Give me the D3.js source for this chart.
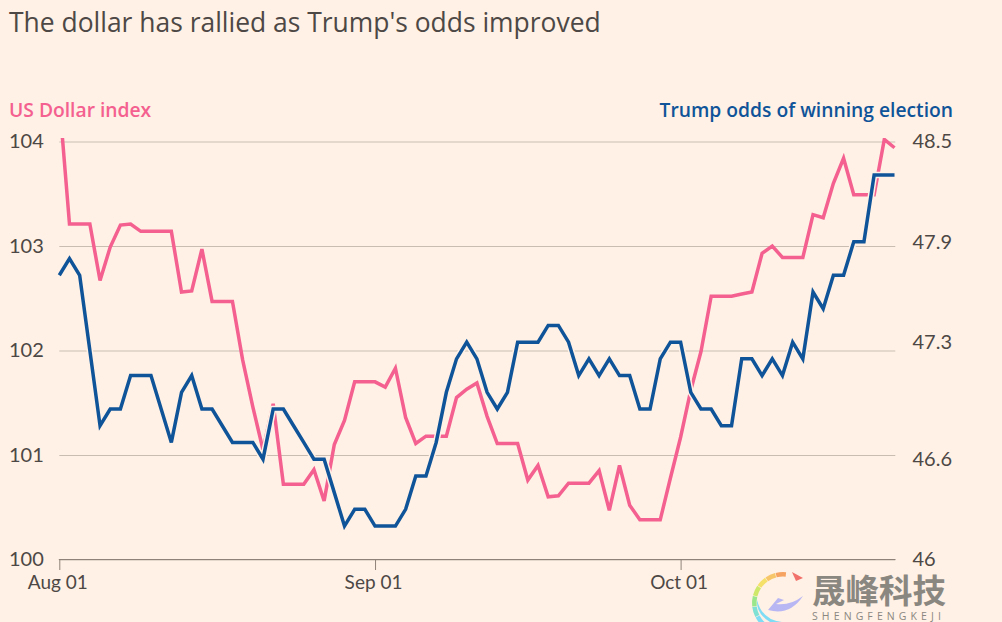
<!DOCTYPE html>
<html>
<head>
<meta charset="utf-8">
<script src="https://cdn.jsdelivr.net/npm/d3@7/dist/d3.min.js"></script>
<style>
  html, body { margin: 0; padding: 0; background: #fff1e5; }
  svg { display: block; }
  text { font-family: "Open Sans", "Noto Sans", sans-serif; }
  .num { font-family: "Lato", "Noto Sans", sans-serif; }
</style>
</head>
<body>
<svg id="chart" width="1002" height="622"></svg>
<script>
const titleText = "The dollar has rallied as Trump's odds improved";
const leftLabel = "US Dollar index";
const rightLabel = "Trump odds of winning election";
const markName = "晟峰科技";
const markLatin = "SHENGFENGKEJI";

const dollarTicks = [100, 101, 102, 103, 104];
const oddsTicks = [46, 46.6, 47.3, 47.9, 48.5];
const dateTicks = ["2024-08-01", "2024-09-01", "2024-10-01"];
const firstDay = "2024-08-01";
const lastDay = "2024-10-22";

// daily readings, Aug 01 to Oct 22
const dollarIndex = [
	104.4, 103.21, 103.21, 103.21, 102.67, 102.99, 103.20, 103.21, 103.14, 103.14,
	103.14, 103.14, 102.56, 102.57, 102.97, 102.47, 102.47, 102.47, 101.91, 101.46,
	101.05, 101.49, 100.72, 100.72, 100.72, 100.86, 100.56, 101.10, 101.33, 101.70,
	101.70, 101.70, 101.65, 101.83, 101.36, 101.11, 101.18, 101.18, 101.18, 101.55,
	101.63, 101.69, 101.37, 101.11, 101.11, 101.11, 100.76, 100.90, 100.60, 100.61,
	100.73, 100.73, 100.73, 100.85, 100.47, 100.90, 100.52, 100.38, 100.38, 100.38,
	100.78, 101.17, 101.62, 101.99, 102.52, 102.52, 102.52, 102.54, 102.56, 102.93,
	103.00, 102.89, 102.89, 102.89, 103.30, 103.27, 103.60, 103.84, 103.49, 103.49,
	103.49, 104.02, 103.94
];
const trumpOdds = [
	47.7, 47.8, 47.7, 47.25, 46.8, 46.9, 46.9, 47.1, 47.1, 47.1,
	46.9, 46.7, 47.0, 47.1, 46.9, 46.9, 46.8, 46.7, 46.7, 46.7,
	46.6, 46.9, 46.9, 46.8, 46.7, 46.6, 46.6, 46.4, 46.2, 46.3,
	46.3, 46.2, 46.2, 46.2, 46.3, 46.5, 46.5, 46.7, 47.0, 47.2,
	47.3, 47.2, 47.0, 46.9, 47.0, 47.3, 47.3, 47.3, 47.4, 47.4,
	47.3, 47.1, 47.2, 47.1, 47.2, 47.1, 47.1, 46.9, 46.9, 47.2,
	47.3, 47.3, 47.0, 46.9, 46.9, 46.8, 46.8, 47.2, 47.2, 47.1,
	47.2, 47.1, 47.3, 47.2, 47.6, 47.5, 47.7, 47.7, 47.9, 47.9,
	48.3, 48.3, 48.3
];

const colors = {
	bg: '#fff1e5',
	pink: '#f4608f',
	blue: '#0f5499',
	grid: '#c9bdb2',
	axis: '#8f8379',
	text: '#4d4845',
	mark: '#8a8781'
};

const parseDay = d3.utcParse('%Y-%m-%d');
const days = d3.utcDay.range(parseDay(firstDay), d3.utcDay.offset(parseDay(lastDay), 1));

const svg = d3.select('#chart');

const x = d3.scaleUtc()
	.domain([parseDay(firstDay), parseDay(lastDay)])
	.range([59.3, 894.5]);
const yDollar = d3.scaleLinear().domain([100, 104]).range([559.5, 141.5]);
const yOdds = d3.scaleLinear().domain([46, 48.5]).range([559.5, 141.5]);

svg.append('text')
	.attr('x', 9).attr('y', 32)
	.attr('font-size', 26.45)
	.attr('fill', colors.text)
	.text(titleText);

svg.append('text')
	.attr('x', 9).attr('y', 117)
	.attr('font-size', 19.25)
	.attr('font-weight', 600)
	.attr('fill', colors.pink)
	.text(leftLabel);

svg.append('text')
	.attr('x', 953).attr('y', 117)
	.attr('text-anchor', 'end')
	.attr('font-size', 19.25)
	.attr('font-weight', 600)
	.attr('fill', colors.blue)
	.text(rightLabel);

// left axis, gridlines run across the plot
const leftAxis = svg.append('g')
	.attr('transform', 'translate(59.3, 0)')
	.call(d3.axisLeft(yDollar).tickValues(dollarTicks).tickSize(-836).tickPadding(0).tickFormat(d3.format('d')));
leftAxis.select('.domain').remove();
leftAxis.selectAll('.tick line')
	.attr('stroke', colors.grid)
	.attr('stroke-width', 1);
leftAxis.selectAll('.tick text')
	.attr('class', 'num')
	.attr('x', -50.3)
	.attr('text-anchor', 'start')
	.attr('font-size', 20)
	.attr('fill', colors.text);

// right axis has its labels only
const rightAxis = svg.append('g')
	.attr('transform', 'translate(912.5, 0)')
	.call(d3.axisRight(yOdds).tickValues(oddsTicks).tickSize(0).tickPadding(0).tickFormat(d => d));
rightAxis.select('.domain').remove();
rightAxis.selectAll('.tick text')
	.attr('class', 'num')
	.attr('font-size', 20)
	.attr('fill', colors.text);

const bottomAxis = svg.append('g')
	.attr('transform', 'translate(0, 559.5)')
	.call(d3.axisBottom(x)
		.tickValues(dateTicks.map(parseDay))
		.tickSize(10.5)
		.tickPadding(6)
		.tickFormat(d3.utcFormat('%b %d')));
bottomAxis.select('.domain')
	.attr('d', 'M58.8,0H895.5')
	.attr('stroke', colors.axis)
	.attr('stroke-width', 1);
bottomAxis.selectAll('.tick line').attr('stroke', colors.axis).attr('stroke-width', 1);
bottomAxis.selectAll('.tick text')
	.attr('class', 'num')
	.attr('x', -2)
	.attr('font-size', 19)
	.attr('fill', colors.text);

svg.append('clipPath').attr('id', 'plot-clip')
	.append('rect')
	.attr('x', 50).attr('y', 138).attr('width', 860).attr('height', 440);

const lineOf = (values, y) => d3.line()
	.x((d, i) => x(days[i]))
	.y(d => y(d))(values);

const lines = svg.append('g').attr('clip-path', 'url(#plot-clip)');

lines.append('path')
	.attr('d', lineOf(dollarIndex, yDollar))
	.attr('fill', 'none')
	.attr('stroke', colors.pink)
	.attr('stroke-width', 3.5);

// blue line sits on a halo of the background colour
lines.append('path')
	.attr('d', lineOf(trumpOdds, yOdds))
	.attr('fill', 'none')
	.attr('stroke', colors.bg)
	.attr('stroke-width', 6.5);

lines.append('path')
	.attr('d', lineOf(trumpOdds, yOdds))
	.attr('fill', 'none')
	.attr('stroke', colors.blue)
	.attr('stroke-width', 3.5);

// watermark at bottom right
const mark = svg.append('g');
const ring = d3.arc().innerRadius(26.5).outerRadius(31);
const ringColors = ['#7fdcf5', '#7fe0d4', '#9ae68a', '#cfe86a', '#f5e06a', '#f8c66a', '#f6a260'];
ringColors.forEach((c, i) => {
	mark.append('path')
		.attr('transform', 'translate(783, 603)')
		.attr('d', ring({ startAngle: (-2.4 + i * 0.36), endAngle: (-2.4 + (i + 1) * 0.36) - 0.02 }))
		.attr('fill', c);
});
mark.append('path').attr('d', 'M792,572L803,578L796,581Z').attr('fill', '#f2706a');
mark.append('path').attr('d', 'M768,610Q790,616 803,596Q790,606 776,604L784,600L778,598Z').attr('fill', '#b9b7f3');
mark.append('path').attr('d', 'M757,600Q762,620 782,622L770,622Q756,614 757,600Z').attr('fill', '#7fdcf5');

mark.append('text')
	.attr('x', 812).attr('y', 603)
	.style('font-family', '"Noto Sans CJK SC"')
	.attr('font-size', 33.5)
	.attr('font-weight', 700)
	.attr('fill', colors.mark)
	.text(markName);
mark.append('text')
	.attr('x', 812).attr('y', 620)
	.attr('font-size', 10.5)
	.attr('letter-spacing', 4.1)
	.attr('fill', colors.mark)
	.text(markLatin);
</script>
</body>
</html>
